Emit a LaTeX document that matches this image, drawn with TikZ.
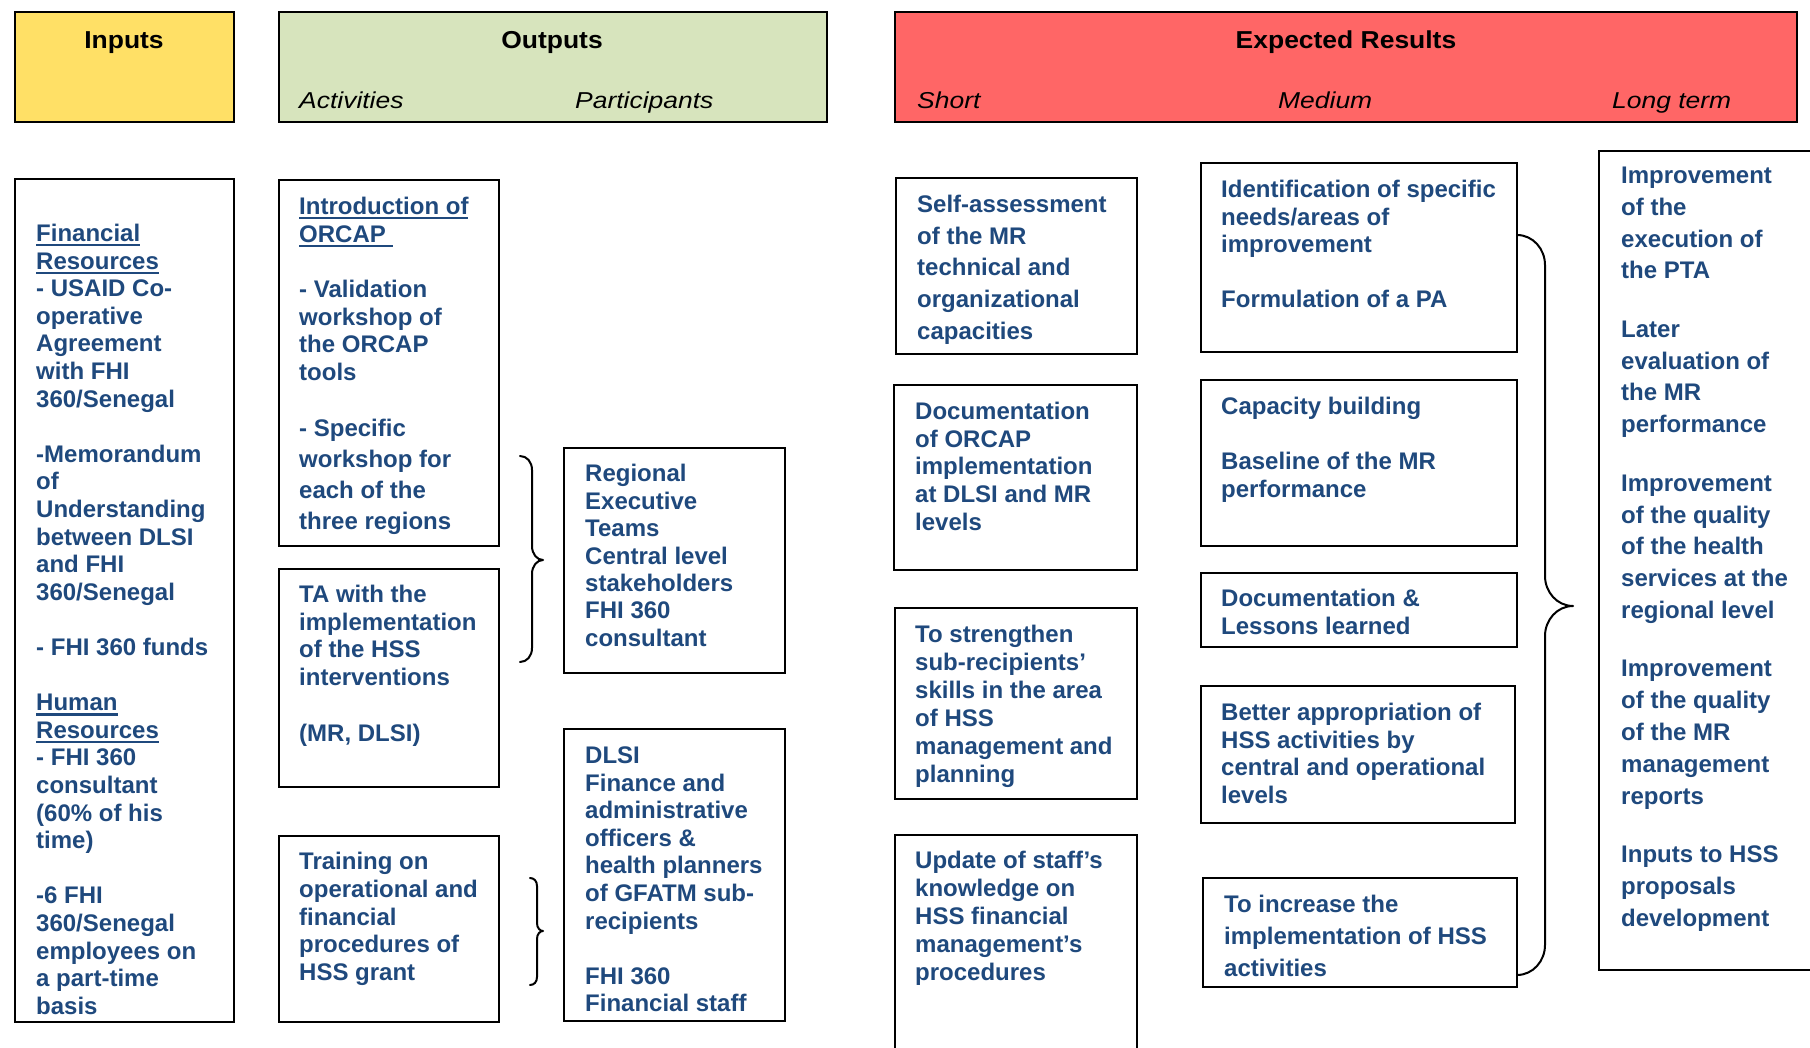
\documentclass[tikz,border=0pt]{standalone}
\usepackage{fontspec}
\setmainfont{Liberation Sans}
\newfontfamily\hdrfont[FakeStretch=1.08]{Liberation Sans}
\newfontfamily\subfont[FakeStretch=1.15]{Liberation Sans}
\definecolor{txtblue}{RGB}{31,73,125}
\definecolor{hyellow}{RGB}{255,224,102}
\definecolor{hgreen}{RGB}{215,228,189}
\definecolor{hred}{RGB}{255,102,102}
\newcommand\ulx[1]{\setbox0\hbox{#1}\rlap{\rule[-5pt]{\wd0}{2.5pt}}\box0}
\newcommand\blk[2]{{\fontsize{24pt}{#1}\selectfont\begin{tabular}[t]{@{}l@{}}#2\end{tabular}}}
\newcommand\bx[6][white]{\node[boxst, fill=#1, anchor=north west, minimum width={#4pt-#2pt}, minimum height={#5pt-#3pt}] (#6) at (#2,#3) {};}
\begin{document}
\begin{tikzpicture}[x=1pt,y=-1pt,
  boxst/.style={draw, line width=2pt, inner sep=0pt, outer sep=0pt},
  txt/.style={anchor=base west, inner sep=0pt, text=txtblue, font=\bfseries, yshift=-1.5pt},
  hdr/.style={anchor=base, inner sep=0pt, font=\hdrfont\bfseries\fontsize{24.5pt}{28pt}\selectfont, yshift=-1.2pt},
  sub/.style={anchor=base west, inner sep=0pt, font=\subfont\itshape\fontsize{23pt}{26pt}\selectfont, yshift=-1.2pt},
  bracest/.style={line width=2pt, line cap=round, line join=round}]
\useasboundingbox (0,0) rectangle (1810,1048);
\clip (0,0) rectangle (1810,1048);
% header boxes
\bx[hyellow]{15}{12}{234}{122}{hin}
\bx[hgreen]{279}{12}{827}{122}{hout}
\bx[hred]{895}{12}{1797}{122}{hexp}
\node[hdr] (tin) at (124,47) {Inputs};
\node[hdr] (tout) at (552,47) {Outputs};
\node[hdr] (texp) at (1346,47) {Expected Results};
\node[sub] (sact) at (299,107) {Activities};
\node[sub] (spar) at (575,107) {Participants};
\node[sub] (sshort) at (917,107) {Short};
\node[sub] (smed) at (1278,107) {Medium};
\node[sub] (slong) at (1612,107) {Long term};
% body boxes
\bx{15}{179}{234}{1022}{in}
\bx{279}{180}{499}{546}{a1}
\bx{279}{569}{499}{787}{a2}
\bx{279}{836}{499}{1022}{a3}
\bx{564}{448}{785}{673}{p1}
\bx{564}{729}{785}{1021}{p2}
\bx{896}{178}{1137}{354}{s1}
\bx{894}{385}{1137}{570}{s2}
\bx{895}{608}{1137}{799}{s3}
\bx{895}{835}{1137}{1070}{s4}
\bx{1201}{163}{1517}{352}{m1}
\bx{1201}{380}{1517}{546}{m2}
\bx{1201}{573}{1517}{647}{m3}
\bx{1201}{686}{1515}{823}{m4}
\bx{1203}{878}{1517}{987}{m5}
\bx{1599}{151}{1840}{970}{lt}
% texts
\node[txt] (tx-in) at (36,240) {\blk{27.6pt}{\ulx{Financial}\\ \ulx{Resources}\\ - USAID Co-\\ operative\\ Agreement\\ with FHI\\ 360/Senegal\\ \\ -Memorandum\\ of\\ Understanding\\ between DLSI\\ and FHI\\ 360/Senegal\\ \\ - FHI 360 funds\\ \\ \ulx{Human}\\ \ulx{Resources}\\ - FHI 360\\ consultant\\ (60\% of his\\ time)\\ \\ -6 FHI\\ 360/Senegal\\ employees on\\ a part-time\\ basis}};
\node[txt] (tx-a1) at (299,213) {\blk{27.7pt}{\ulx{Introduction of}\\ \ulx{ORCAP\ }\\ \\ - Validation\\ workshop of\\ the ORCAP\\ tools\\ \\ - Specific\\[3.3pt] workshop for\\[3.3pt] each of the\\[3.3pt] three regions}};
\node[txt] (tx-a2) at (299,601) {\blk{27.7pt}{TA with the\\ implementation\\ of the HSS\\ interventions\\ \\ (MR, DLSI)}};
\node[txt] (tx-a3) at (299,868) {\blk{27.8pt}{Training on\\ operational and\\ financial\\ procedures of\\ HSS grant}};
\node[txt] (tx-p1) at (585,480) {\blk{27.5pt}{Regional\\ Executive\\ Teams\\ Central level\\ stakeholders\\ FHI 360\\ consultant}};
\node[txt] (tx-p2) at (585,762) {\blk{27.6pt}{DLSI\\ Finance and\\ administrative\\ officers \&\\ health planners\\ of GFATM sub-\\ recipients\\ \\ FHI 360\\ Financial staff}};
\node[txt] (tx-s1) at (917,211) {\blk{31.7pt}{Self-assessment\\ of the MR\\ technical and\\ organizational\\ capacities}};
\node[txt] (tx-s2) at (915,418) {\blk{27.7pt}{Documentation\\ of ORCAP\\ implementation\\ at DLSI and MR\\ levels}};
\node[txt] (tx-s3) at (915,641) {\blk{27.9pt}{To strengthen\\ sub-recipients’\\ skills in the area\\ of HSS\\ management and\\ planning}};
\node[txt] (tx-s4) at (915,867) {\blk{28pt}{Update of staff’s\\ knowledge on\\ HSS financial\\ management’s\\ procedures}};
\node[txt] (tx-m1) at (1221,196) {\blk{27.6pt}{Identification of specific\\ needs/areas of\\ improvement\\ \\ Formulation of a PA}};
\node[txt] (tx-m2) at (1221,413) {\blk{27.6pt}{Capacity building\\ \\ Baseline of the MR\\ performance}};
\node[txt] (tx-m3) at (1221,605) {\blk{28pt}{Documentation \&\\ Lessons learned}};
\node[txt] (tx-m4) at (1221,719) {\blk{27.7pt}{Better appropriation of\\ HSS activities by\\ central and operational\\ levels}};
\node[txt] (tx-m5) at (1224,911) {\blk{32pt}{To increase the\\ implementation of HSS\\ activities}};
\node[txt] (tx-lt) at (1621,182) {\blk{31.8pt}{Improvement\\ of the\\ execution of\\ the PTA\\[26.7pt] Later\\ evaluation of\\ the MR\\ performance\\[26.7pt] Improvement\\ of the quality\\ of the health\\ services at the\\ regional level\\[26.7pt] Improvement\\ of the quality\\ of the MR\\ management\\ reports\\[26.7pt] Inputs to HSS\\ proposals\\ development}};
% braces
\draw[bracest] (520,456) .. controls (527,456) and (532,462) .. (532,470) -- (532,546) .. controls (532,554) and (537,560) .. (543,560) .. controls (537,560) and (532,566) .. (532,574) -- (532,648) .. controls (532,656) and (527,662) .. (520,662);
\draw[bracest] (530,878) .. controls (534,878) and (537,881) .. (537,886) -- (537,923) .. controls (537,928) and (540,931) .. (543,931) .. controls (540,931) and (537,934) .. (537,939) -- (537,977) .. controls (537,982) and (534,985) .. (530,985);
\draw[bracest] (1517,235) .. controls (1533,235) and (1545,249) .. (1545,265) -- (1545,576) .. controls (1545,592) and (1557,606) .. (1573,606) .. controls (1557,606) and (1545,620) .. (1545,636) -- (1545,945) .. controls (1545,961) and (1533,975) .. (1517,975);
\end{tikzpicture}
\end{document}
